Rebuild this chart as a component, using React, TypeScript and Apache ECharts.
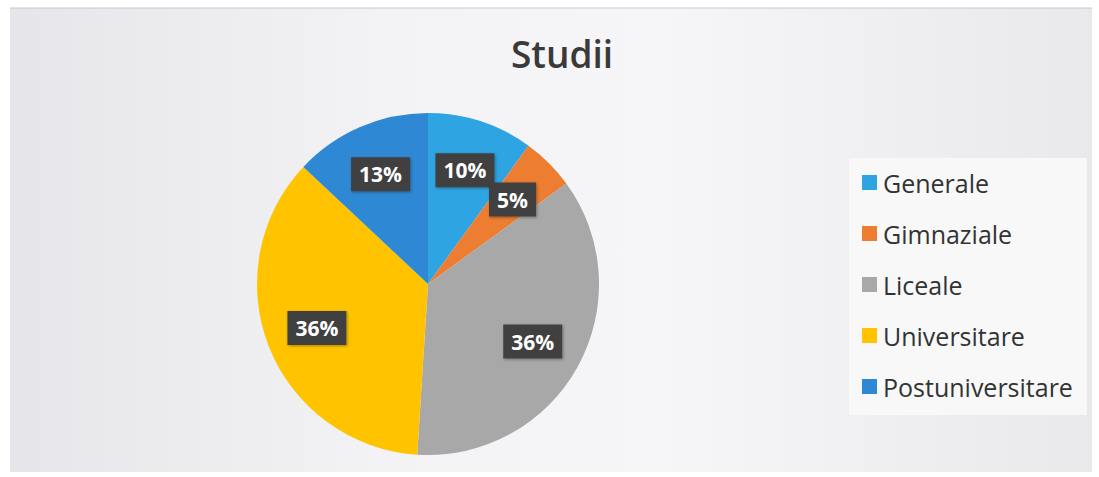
import React, { useEffect, useRef } from "react";
import * as echarts from "echarts";

const categories = ["Generale", "Gimnaziale", "Liceale", "Universitare", "Postuniversitare"];
const values = [10, 5, 36, 36, 13];
const colors = ["#2EA4E2", "#ED7D31", "#A8A8A8", "#FFC300", "#2F88D4"];
const title = "Studii";

export default function App() {
  const ref = useRef<HTMLDivElement>(null);
  useEffect(() => {
    document.body.style.margin = "0";
    const chart = echarts.init(ref.current!, null, { renderer: "svg" });
    const data = categories.map((name, i) => ({ name, value: values[i], itemStyle: { color: colors[i] } }));
    const R = 171;
    chart.setOption({
      animation: false,
      backgroundColor: "#ffffff",
      graphic: [
        {
          type: "rect",
          z: -10,
          shape: { x: 10, y: 8, width: 1082, height: 464 },
          style: {
            fill: new echarts.graphic.LinearGradient(0, 0, 1, 0, [
              { offset: 0, color: "#e6e6ea" },
              { offset: 0.35, color: "#f3f3f5" },
              { offset: 0.6, color: "#f6f6f8" },
              { offset: 1, color: "#e9e9ec" },
            ]),
          },
        },
        {
          type: "line",
          z: -9,
          shape: { x1: 10, y1: 8, x2: 1092, y2: 8 },
          style: { stroke: "#c8c8cc", lineWidth: 1 },
        },
      ],
      title: {
        text: title,
        left: 557,
        top: 30,
        textAlign: "center",
        textStyle: { fontFamily: "Open Sans", fontSize: 37, fontWeight: 600, color: "#3a3a3a" },
      },
      legend: {
        orient: "vertical",
        left: 849,
        top: 158,
        itemGap: 26,
        itemWidth: 15,
        itemHeight: 15,
        icon: "rect",
        padding: [12, 14, 16, 13],
        backgroundColor: "#f8f8f9",
        data: categories.map((name, i) => ({ name, itemStyle: { color: colors[i] } })),
        textStyle: { fontFamily: "Open Sans", fontSize: 25, lineHeight: 24, color: "#333333", padding: [0, 0, 0, 1] },
      },
      series: [
        {
          type: "pie",
          center: [428, 284],
          radius: [0, R],
          startAngle: 90,
          clockwise: true,
          label: { show: false },
          labelLine: { show: false },
          emphasis: { disabled: true },
          itemStyle: { borderWidth: 0 },
          data,
        },
        {
          type: "pie",
          center: [428, 284],
          radius: [Math.round(R * 0.36), R],
          startAngle: 90,
          clockwise: true,
          silent: true,
          avoidLabelOverlap: false,
          legendHoverLink: false,
          emphasis: { disabled: true },
          itemStyle: { color: "rgba(0,0,0,0)", borderWidth: 0 },
          labelLine: { show: false },
          labelLayout: { hideOverlap: false },
          label: {
            show: true,
            position: "inside",
            formatter: (p: any) => p.value + "%",
            backgroundColor: "#404040",
            color: "#ffffff",
            fontFamily: "Open Sans",
            fontWeight: "bold",
            fontSize: 21,
            padding: [7, 8, 6, 8],
            shadowColor: "rgba(0,0,0,0.35)",
            shadowBlur: 3,
            shadowOffsetX: 1,
            shadowOffsetY: 1,
          },
          data: categories.map((name, i) => ({ name, value: values[i] })),
        },
      ],
    });
    return () => chart.dispose();
  }, []);
  return <div ref={ref} style={{ width: 1099, height: 477 }} />;
}
